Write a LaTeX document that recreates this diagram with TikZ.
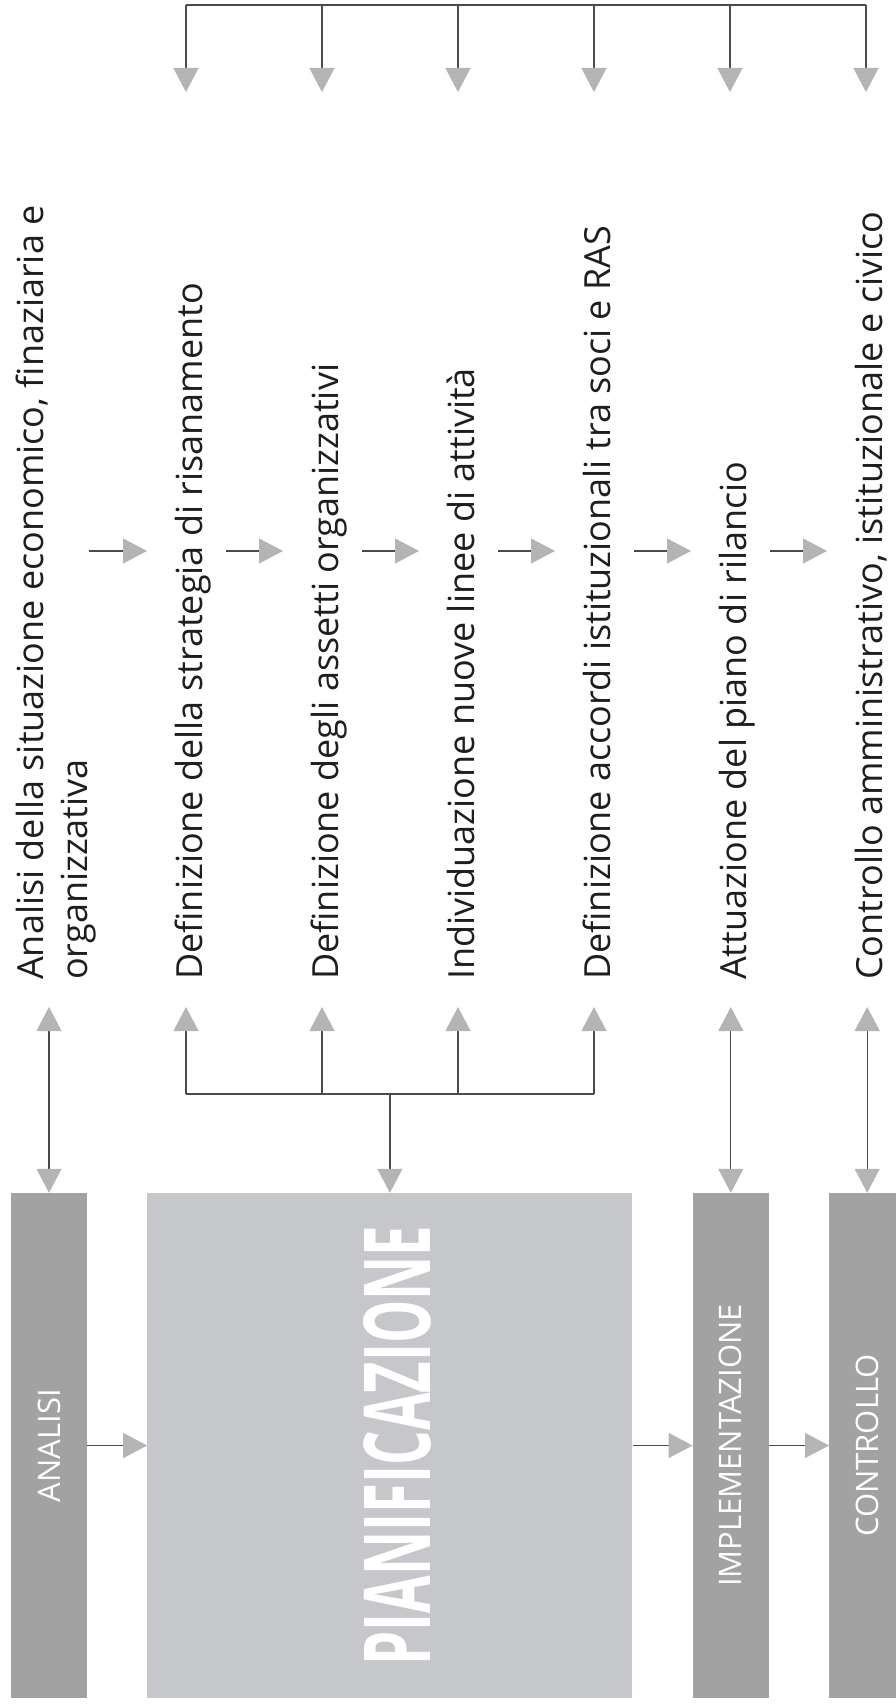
\documentclass[tikz,border=0pt]{standalone}
\usepackage{fontspec}
\setmainfont{Open Sans}
\usepackage{tikz}
\usetikzlibrary{arrows.meta, calc, positioning}

\definecolor{phasegray}{HTML}{A2A2A2}
\definecolor{plangray}{HTML}{C5C7CB}
\definecolor{linegray}{HTML}{4A4A4A}
\definecolor{headgray}{HTML}{B4B4B4}
\definecolor{inkgray}{HTML}{1E1E1E}

\begin{document}
\begin{tikzpicture}[x=1pt, y=-1pt,
    hd/.tip={Triangle[length=24pt, width=25pt, color=headgray, fill=headgray]},
    link/.style={draw=linegray, line width=1.2pt},
    arr/.style={link, -hd},
    darr/.style={link, hd-hd},
    txt/.style={rotate=90, inner sep=0, text=inkgray,
        font=\fontsize{36pt}{44pt}\selectfont},
    phase/.style={fill=phasegray, minimum width=76pt, minimum height=505pt,
        inner sep=0, text=white, font=\fontsize{31pt}{36pt}\selectfont}]

\useasboundingbox (0,0) rectangle (896,1707);

% Column guides
\foreach \i/\x in {1/49, 2/186, 3/322, 4/458, 5/594, 6/730, 7/866}
    \coordinate (col\i) at (\x,0);
\coordinate (bus) at (0,5);
\coordinate (bustip) at (0,92);
\coordinate (mid) at (0,551);
\coordinate (tbase) at (0,980);
\coordinate (ttip) at (0,1007);
\coordinate (fork) at (0,1094);

% Phases
\node[phase] (analisi) at (49,1445.5) {\rotatebox{90}{ANALISI}};

\node[phase,
    fill=plangray,
    minimum width=485pt,
    right=60pt of analisi
] (pianif) {};

\node[rotate=90,
    inner sep=0,
    text=white
] (pianiftxt) at ([xshift=8pt]pianif.center) {\resizebox{440pt}{67pt}{\bfseries PIANIFICAZIONE}};

\node[phase, right=60pt of pianif] (impl) {\rotatebox{90}{IMPLEMENTAZIONE}};

\node[phase, right=60pt of impl] (controllo) {\rotatebox{90}{CONTROLLO}};

% Steps
\node[txt, anchor=north west, align=left] (t1) at ($(col1 |- tbase)+(-33,0)$)
    {Analisi della situazione economico, finaziaria e\\organizzativa};
\node[txt, anchor=base west] (t2) at ($(col2 |- tbase)+(16,0)$)
    {Definizione della strategia di risanamento};
\node[txt, anchor=base west] (t3) at ($(col3 |- tbase)+(16,0)$)
    {Definizione degli assetti organizzativi};
\node[txt, anchor=base west] (t4) at ($(col4 |- tbase)+(16,0)$)
    {Individuazione nuove linee di attività};
\node[txt, anchor=base west] (t5) at ($(col5 |- tbase)+(16,0)$)
    {Definizione accordi istituzionali tra soci e RAS};
\node[txt, anchor=base west] (t6) at ($(col6 |- tbase)+(16,0)$)
    {Attuazione del piano di rilancio};
\node[txt, anchor=base west] (t7) at ($(col7 |- tbase)+(16,0)$)
    {Controllo amministrativo, istituzionale e civico};

% Arrows between phases
\draw[arr] (analisi) -- (pianif);
\draw[arr] (pianif) -- (impl);
\draw[arr] (impl) -- (controllo);

% Phases and steps
\draw[darr] (analisi) -- (analisi |- ttip);
\draw[darr] (impl) -- (impl |- ttip);
\draw[darr] (controllo) -- (controllo |- ttip);

\draw[link] (col2 |- fork) -- (col5 |- fork);
\draw[arr] (pianif.north |- fork) -- (pianif);
\foreach \i in {2,...,5}
    \draw[arr] (col\i |- fork) -- (col\i |- ttip);

% Flow between steps
\foreach \i/\j in {1/2, 2/3, 3/4, 4/5, 5/6, 6/7}
    \draw[arr] ($(col\i |- mid)+(40,0)$) -- ($(col\j |- mid)+(-39,0)$);

% Top bus
\draw[link] (col2 |- bus) -- (col7 |- bus);
\foreach \i in {2,...,7}
    \draw[arr] (col\i |- bus) -- (col\i |- bustip);

\end{tikzpicture}
\end{document}
